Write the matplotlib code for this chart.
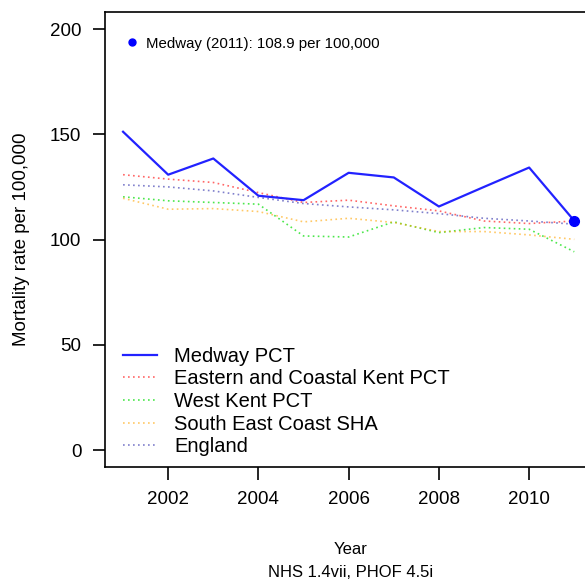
import matplotlib.pyplot as plt
from matplotlib.lines import Line2D

plt.rcParams['font.family'] = ['Liberation Sans', 'DejaVu Sans']

years = [2001, 2002, 2003, 2004, 2005, 2006, 2007, 2008, 2009, 2010, 2011]
medway = [151.2, 130.8, 138.5, 120.8, 118.7, 131.7, 129.5, 115.7, 125.0, 134.2, 108.9]
east_coastal_kent = [130.8, 128.7, 127.1, 122.3, 117.6, 118.7, 116.0, 113.6, 108.8, 107.6, 108.8]
west_kent = [120.3, 118.4, 117.6, 116.8, 101.7, 101.2, 108.4, 103.3, 105.7, 104.9, 94.2]
se_coast_sha = [119.6, 114.4, 114.7, 113.3, 108.4, 110.1, 108.1, 103.8, 103.8, 102.2, 100.1]
england = [126.0, 125.0, 123.1, 120.0, 117.1, 115.5, 114.1, 112.3, 110.1, 108.8, 107.3]

fig = plt.figure(figsize=(5.85, 5.8), dpi=100)
ax = fig.add_axes([0.1795, 0.195, 0.833, 0.784])

dots = (0, (1, 2))
ax.plot(years, east_coastal_kent, color='red', lw=1.2, ls=dots, alpha=0.6, label='Eastern and Coastal Kent PCT')
ax.plot(years, west_kent, color='#00dd00', lw=1.2, ls=dots, alpha=0.7, label='West Kent PCT')
ax.plot(years, se_coast_sha, color='orange', lw=1.2, ls=dots, alpha=0.6, label='South East Coast SHA')
ax.plot(years, england, color='#000099', lw=1.2, ls=dots, alpha=0.5, label='England')
ax.plot(years, medway, color='#2222ff', lw=1.6, label='Medway PCT')
ax.plot(years[-1], medway[-1], 'o', color='blue', ms=7)

ax.set_xlim(2000.6, 2011.4)
ax.set_ylim(-8, 208)
ax.set_xticks([2002, 2004, 2006, 2008, 2010])
ax.set_yticks([0, 50, 100, 150, 200])
ax.tick_params(length=9, width=1.2, labelsize=13.5)
ax.tick_params(axis='x', pad=8)
ax.tick_params(axis='y', pad=8)
for s in ax.spines.values():
    s.set_linewidth(1.2)

ax.set_ylabel('Mortality rate per 100,000', fontsize=13.5, labelpad=14)

# legend in the order the series are listed
h, l = ax.get_legend_handles_labels()
order = [4, 0, 1, 2, 3]
leg = ax.legend([h[i] for i in order], [l[i] for i in order],
                loc='upper left', bbox_to_anchor=(0.21, 0.402), bbox_transform=fig.transFigure,
                frameon=False, fontsize=14.5, handlelength=1.7, handletextpad=0.85,
                labelspacing=0.18, borderaxespad=0, borderpad=0)
ax.add_artist(leg)

note = Line2D([], [], marker='o', color='blue', ls='none', ms=5)
ax.legend([note], ['Medway (%d): %.1f per 100,000' % (years[-1], medway[-1])],
          loc='upper left', bbox_to_anchor=(0.218, 0.937), bbox_transform=fig.transFigure,
          frameon=False, fontsize=10.8, handlelength=0.6, handletextpad=0.6,
          borderaxespad=0, borderpad=0)

fig.text(0.599, 0.045, 'Year', ha='center', fontsize=12)
fig.text(0.599, 0.005, 'NHS 1.4vii, PHOF 4.5i', ha='center', fontsize=12)

fig.savefig('out.png', dpi=100)
